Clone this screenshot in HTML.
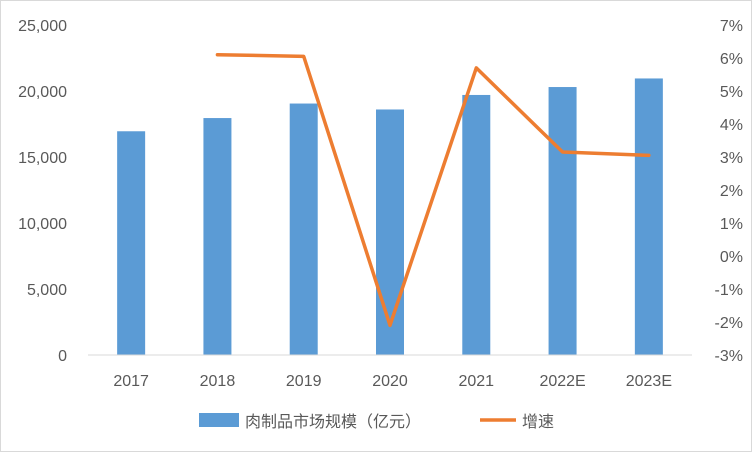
<!DOCTYPE html>
<html><head><meta charset="utf-8"><style>
body{margin:0;background:#fff;}
svg text{font-family:"Liberation Sans","Noto Sans CJK SC",sans-serif;fill:#595959;font-size:16px;}
</style></head><body>
<svg id="chart" width="752" height="452" xmlns="http://www.w3.org/2000/svg">
<rect x="0.5" y="0.5" width="751" height="451" fill="#fff" stroke="#d9d9d9"/>
<g id="plot"></g>
<g>
<rect x="199" y="413" width="40" height="14" fill="#5b9bd5"/>
<text x="245" y="427">肉制品市场规模（亿元）</text>
<line x1="480" y1="420" x2="516" y2="420" stroke="#ed7d31" stroke-width="3.5"/>
<text x="522" y="427">增速</text>
</g>
</svg>
<script>
const categories=["2017","2018","2019","2020","2021","2022E","2023E"];
const marketSize=[16950,17950,19050,18600,19700,20300,20950];
const growth=[null,6.1,6.05,-2.1,5.7,3.15,3.05];
const leftTicks=[0,5000,10000,15000,20000,25000];
const rightTicks=[-3,-2,-1,0,1,2,3,4,5,6,7];
const NS="http://www.w3.org/2000/svg";
const g=document.getElementById('plot');
const plotTop=25,plotBottom=355,plotLeft=88,plotRight=692;
const yL=v=>plotBottom-(v-0)/25000*(plotBottom-plotTop);
const yR=v=>plotBottom-(v+3)/10*(plotBottom-plotTop);
const bw=(plotRight-plotLeft)/categories.length;
const xC=i=>plotLeft+bw*(i+0.5);
function mk(t,a){const e=document.createElementNS(NS,t);for(const k in a)e.setAttribute(k,a[k]);g.appendChild(e);return e;}
leftTicks.forEach(v=>{const t=mk('text',{x:67,y:yL(v)+6,'text-anchor':'end'});t.textContent=v.toLocaleString('en-US');

});
rightTicks.forEach(v=>{const t=mk('text',{x:743,y:yR(v)+6,'text-anchor':'end'});t.textContent=v+'%';

});
marketSize.forEach((v,i)=>{const r=mk('rect',{x:xC(i)-14,y:yL(v),width:28,height:plotBottom-yL(v),fill:'#5b9bd5'});

});
const ax=mk('line',{x1:plotLeft,y1:plotBottom,x2:plotRight,y2:plotBottom,stroke:'#d9d9d9','stroke-width':1});


categories.forEach((c,i)=>{const t=mk('text',{x:xC(i),y:386,'text-anchor':'middle'});t.textContent=c;

});
const pts=[];growth.forEach((v,i)=>{if(v!==null)pts.push(xC(i)+','+yR(v));});
const pl=mk('polyline',{points:pts.join(' '),fill:'none',stroke:'#ed7d31','stroke-width':3.5,'stroke-linejoin':'round','stroke-linecap':'round'});


</script>
</body></html>
